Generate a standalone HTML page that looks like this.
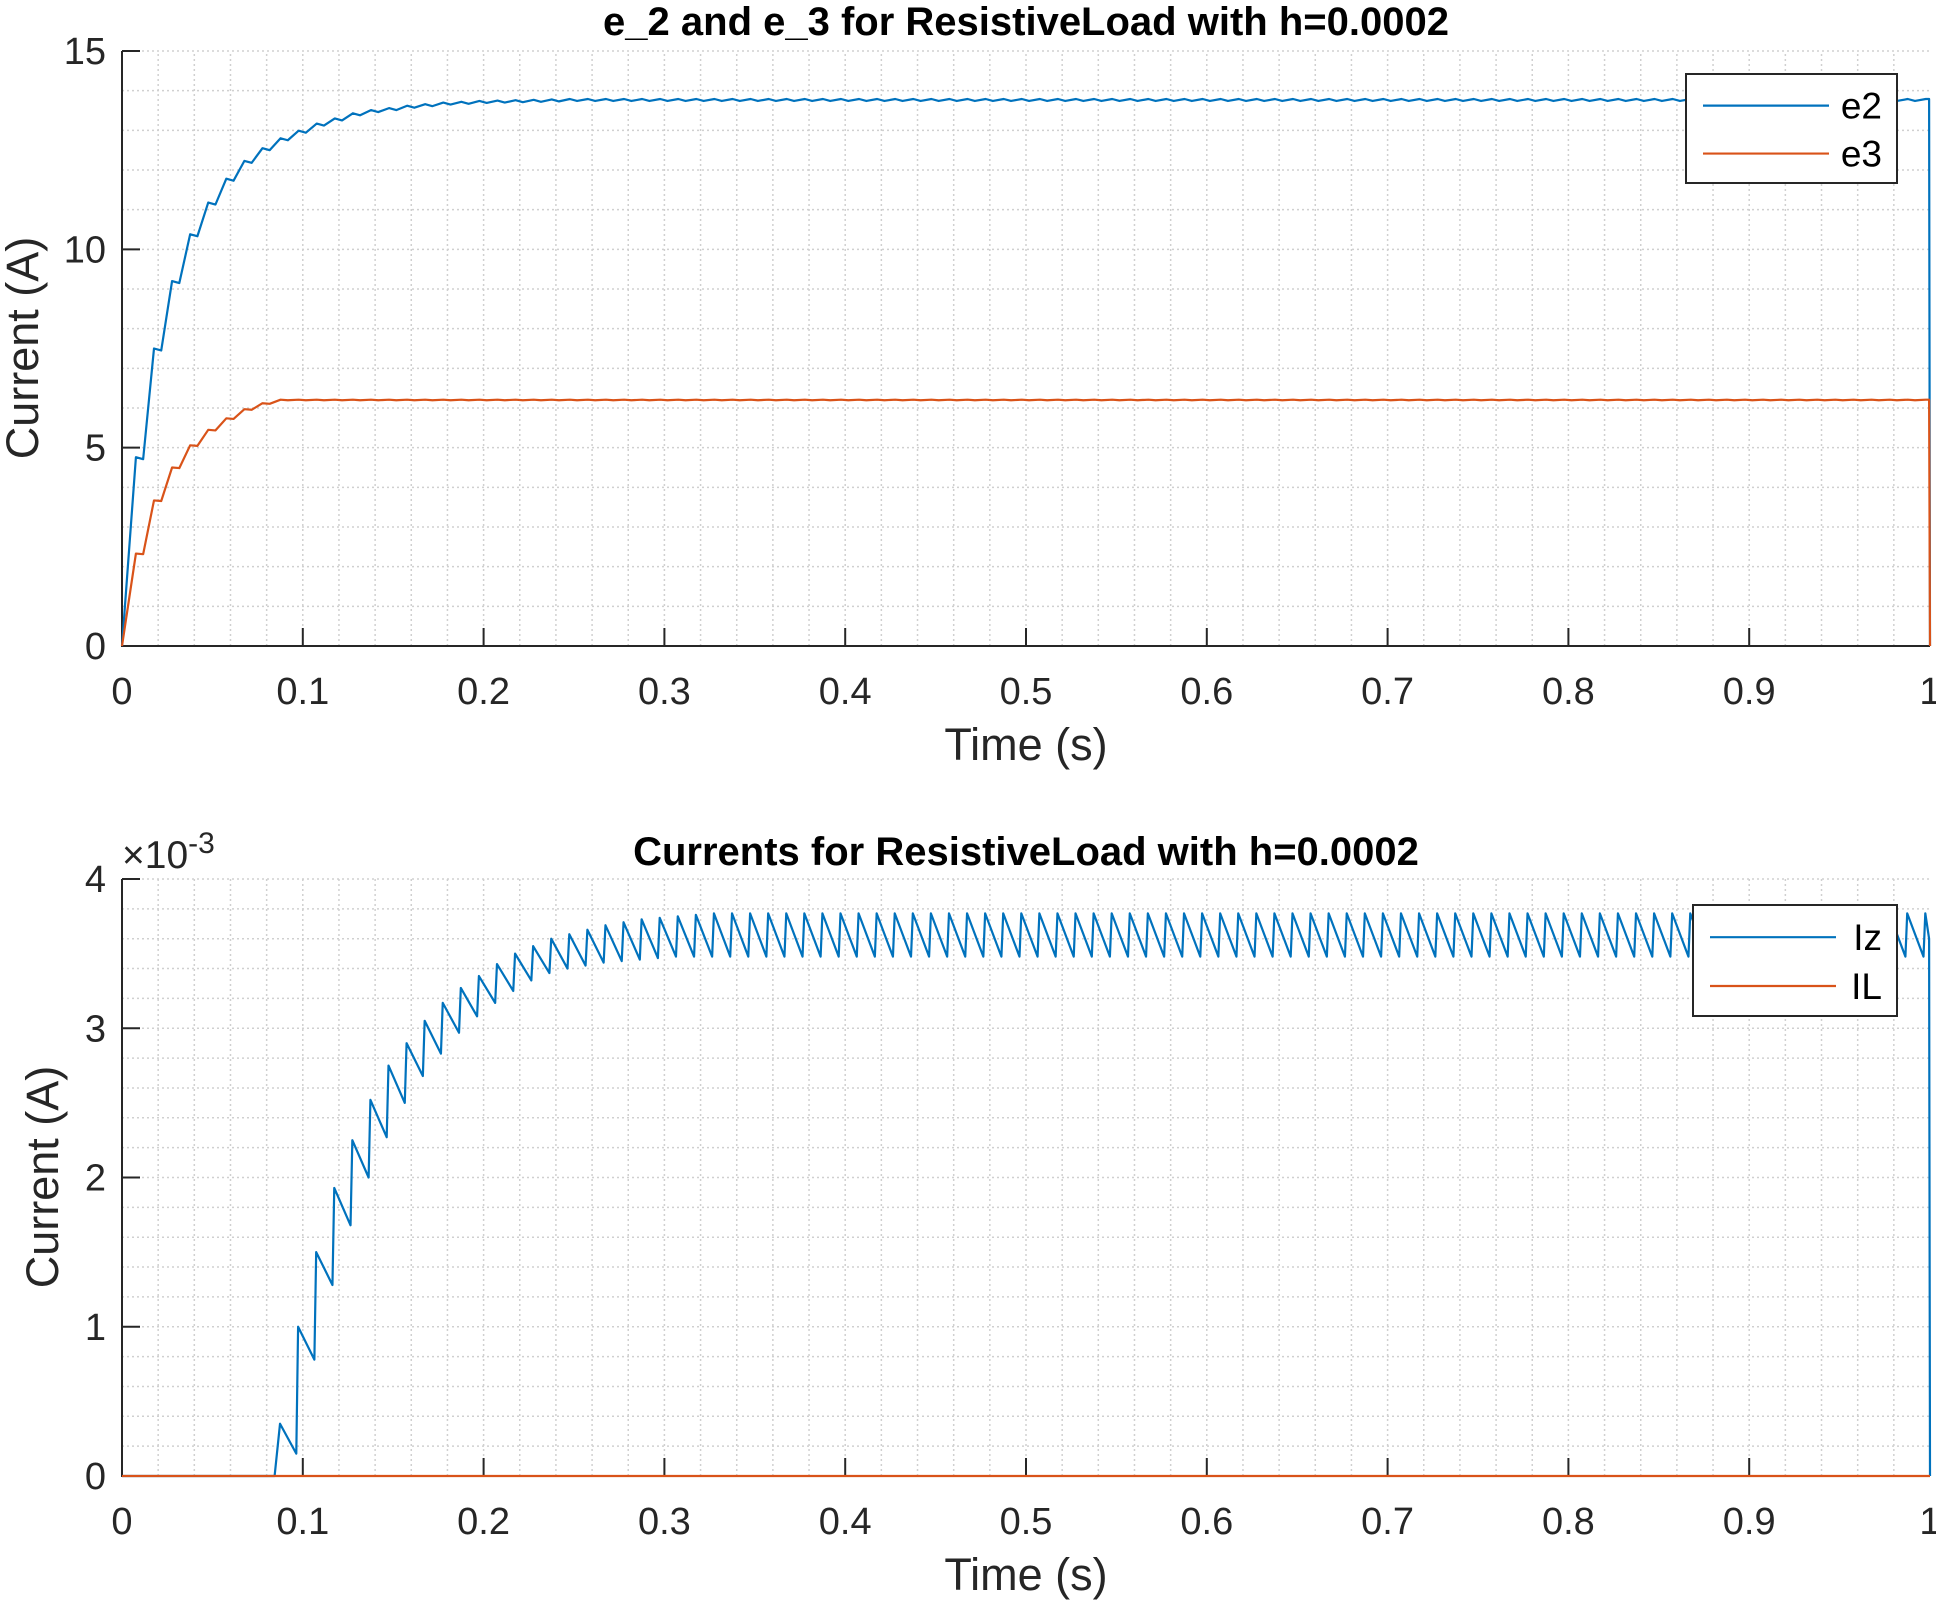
<!DOCTYPE html>
<html><head><meta charset="utf-8"><style>
html,body{margin:0;padding:0;background:#fff;}
svg{display:block;font-family:"Liberation Sans",Arial,sans-serif;}
</style></head><body>
<svg id="fig" width="1936" height="1601" viewBox="0 0 1936 1601"></svg>
<script>
// ---- data ----
const xTicks=[0,0.1,0.2,0.3,0.4,0.5,0.6,0.7,0.8,0.9,1];
const xTickLabels=["0","0.1","0.2","0.3","0.4","0.5","0.6","0.7","0.8","0.9","1"];
const topYTicks=[0,5,10,15];
const topYTickLabels=["0","5","10","15"];
const botYTicks=[0,1,2,3,4];
const botYTickLabels=["0","1","2","3","4"];
// e2 plateau levels per 0.01 s cycle
const e2Levels=[4.76,7.5,9.2,10.38,11.18,11.78,12.23,12.55,12.8,12.99,13.17,13.3,13.43,13.51,13.56,13.62,13.66,13.7,13.72,13.74,13.75,13.76,13.77,13.78];
const e2Steady=13.79;
// e3 plateau levels
const e3Levels=[2.33,3.67,4.5,5.06,5.45,5.74,5.97,6.12,6.21];
const e3Steady=6.21;
// Iz peaks / troughs per cycle (x1e-3)
const izPeaks=[0.35,1.0,1.5,1.93,2.25,2.52,2.75,2.9,3.05,3.17,3.27,3.35,3.43,3.5,3.55,3.6,3.63,3.66,3.69,3.71,3.73,3.74,3.75,3.76];
const izTroughs=[0.15,0.78,1.28,1.68,2.0,2.27,2.5,2.68,2.83,2.97,3.08,3.17,3.25,3.32,3.37,3.4,3.42,3.44,3.45,3.46,3.47,3.48,3.48,3.48];
const izSteadyPeak=3.77, izSteadyTrough=3.48;
const izStart=0.0874;
const period=0.01;

const NS="http://www.w3.org/2000/svg";
const svg=document.getElementById('fig');
function mk(tag,attrs,parent){const e=document.createElementNS(NS,tag);for(const k in attrs)e.setAttribute(k,attrs[k]);(parent||svg).appendChild(e);return e;}

function axes(cfg){
  const g=mk('g',{});
  
  
  const X=v=>cfg.x0+(v-0)/(1-0)*(cfg.x1-cfg.x0);
  const Y=v=>cfg.y0-(v-cfg.ymin)/(cfg.ymax-cfg.ymin)*(cfg.y0-cfg.y1);
  for(let i=1;i<50;i++){const t=i*0.02;mk('line',{x1:X(t),x2:X(t),y1:cfg.y0,y2:cfg.y1,stroke:'#d0d0d0','stroke-width':1.5,'stroke-dasharray':'2 3'},g);}
  const n=Math.round((cfg.ymax-cfg.ymin)/cfg.minorY);
  for(let i=1;i<=n;i++){const v=cfg.ymin+i*cfg.minorY;mk('line',{x1:cfg.x0,x2:cfg.x1,y1:Y(v),y2:Y(v),stroke:'#d0d0d0','stroke-width':1.5,'stroke-dasharray':'2 3'},g);}
  xTicks.forEach((t,i)=>{
    mk('line',{x1:X(t),x2:X(t),y1:cfg.y0,y2:cfg.y0-18,stroke:'#262626','stroke-width':2},g);
    const tx=mk('text',{x:X(t),y:cfg.y0+58,'font-size':38,'text-anchor':'middle',fill:'#262626'},g);
    tx.textContent=xTickLabels[i];
    
    
  });
  cfg.yTicks.forEach((v,i)=>{
    mk('line',{x1:cfg.x0,x2:cfg.x0+18,y1:Y(v),y2:Y(v),stroke:'#262626','stroke-width':2},g);
    const tx=mk('text',{x:cfg.x0-16,y:Y(v)+13,'font-size':38,'text-anchor':'end',fill:'#262626'},g);
    tx.textContent=cfg.yLabels[i];
    
    
  });
  mk('polyline',{points:`${cfg.x0},${cfg.y1} ${cfg.x0},${cfg.y0} ${cfg.x1},${cfg.y0}`,fill:'none',stroke:'#262626','stroke-width':2},g);
  return {X,Y,g};
}

function series(a,pts,color,name){
  const p=mk('polyline',{points:pts.map(q=>a.X(q[0]).toFixed(2)+','+a.Y(q[1]).toFixed(2)).join(' '),fill:'none',stroke:color,'stroke-width':2.2,'stroke-linejoin':'round'},a.g);
  
  
}

function stepPts(levels,steady,dip){
  const pts=[[0,0]];
  for(let k=0;k<100;k++){
    const lv=k<levels.length?levels[k]:steady;
    const t0=0.0077+k*period;
    if(t0>1) break;
    pts.push([t0,lv]);
    const t1=t0+0.004;
    if(t1<1) pts.push([t1,lv-dip]);
  }
  pts.push([0.9995,steady]);pts.push([1,0]);
  return pts;
}

// ---- top plot ----
const A=axes({name:'top-axes',x0:122,x1:1930,y0:646,y1:51,ymin:0,ymax:15,minorY:1,yTicks:topYTicks,yLabels:topYTickLabels});
series(A,stepPts(e2Levels,e2Steady,0.05),'#0072BD','e2-line');
series(A,stepPts(e3Levels,e3Steady,0.015),'#D95319','e3-line');

// ---- bottom plot ----
const B=axes({name:'bottom-axes',x0:122,x1:1930,y0:1476,y1:879,ymin:0,ymax:4,minorY:0.2,yTicks:botYTicks,yLabels:botYTickLabels});
(function(){
  const pts=[[0,0],[izStart-0.003,0]];
  for(let k=0;k<100;k++){
    const t=izStart+k*period;
    if(t>1) break;
    const pk=k<izPeaks.length?izPeaks[k]:izSteadyPeak;
    const tr=k<izTroughs.length?izTroughs[k]:izSteadyTrough;
    pts.push([t,pk]);
    const tt=t+period-0.001;
    if(tt<1) pts.push([tt,tr]);
  }
  pts.push([0.9995,3.6]);pts.push([1,0]);
  series(B,pts,'#0072BD','iz-line');
  series(B,[[0,0],[1,0]],'#D95319','il-line');
})();

function text(x,y,s,size,name,extra){
  const t=mk('text',Object.assign({x:x,y:y,'font-size':size,'text-anchor':'middle',fill:'#262626'},extra||{}));
  t.textContent=s;
  
  
  return t;
}
text(1026,35,'e_2 and e_3 for ResistiveLoad with h=0.0002',40,'top-title',{'font-weight':'bold',fill:'#000'});
text(1026,865,'Currents for ResistiveLoad with h=0.0002',40,'bottom-title',{'font-weight':'bold',fill:'#000'});
text(1026,760,'Time (s)',45,'top-x-axis-title');
text(1026,1590,'Time (s)',45,'bottom-x-axis-title');
text(0,0,'Current (A)',45,'top-y-axis-title',{transform:'translate(38,348) rotate(-90)'});
text(0,0,'Current (A)',45,'bottom-y-axis-title',{transform:'translate(58,1177) rotate(-90)'});
const ex=mk('text',{x:122,y:868,'font-size':39,fill:'#262626'});


ex.innerHTML='×10<tspan dy="-15" font-size="30">-3</tspan>';

function legend(x,y,w,h,items,name){
  const g=mk('g',{});
  
  
  mk('rect',{x:x,y:y,width:w,height:h,fill:'#fff',stroke:'#262626','stroke-width':2},g);
  items.forEach((it,i)=>{
    const cy=y+h*(0.29+0.44*i);
    mk('line',{x1:x+17,x2:x+143,y1:cy,y2:cy,stroke:it[1],'stroke-width':2.2},g);
    const t=mk('text',{x:x+w-15,y:cy+13,'font-size':37,'text-anchor':'end',fill:'#000'},g);
    t.textContent=it[0];
    
    
  });
}
legend(1686,74,211,109,[['e2','#0072BD'],['e3','#D95319']],'top-legend');
legend(1693,905,204,111,[['Iz','#0072BD'],['IL','#D95319']],'bottom-legend');
</script>
</body></html>
